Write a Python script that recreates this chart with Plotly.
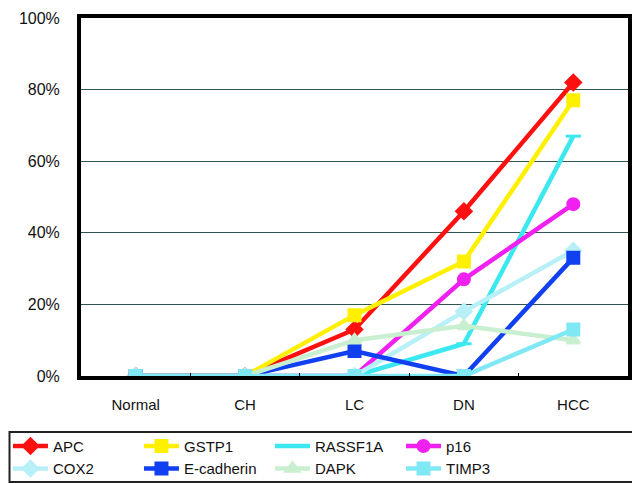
import plotly.graph_objects as go

categories = ["Normal", "CH", "LC", "DN", "HCC"]
legend_labels = ["APC", "GSTP1", "RASSF1A", "p16", "COX2", "E-cadherin", "DAPK", "TIMP3"]
apc = [0, 0, 13, 46, 82]
gstp1 = [0, 0, 17, 32, 77]
rassf1a = [0, 0, 0, 9, 67]
p16 = [0, 0, 0, 27, 48]
cox2 = [0, 0, 0, 18, 35]
ecadherin = [0, 0, 7, 0, 33]
dapk = [0, 0, 10, 14, 10]
timp3 = [0, 0, 0, 0, 13]
values = [apc, gstp1, rassf1a, p16, cox2, ecadherin, dapk, timp3]
y_ticks = [0, 20, 40, 60, 80, 100]
y_tick_labels = ["0%", "20%", "40%", "60%", "80%", "100%"]

colors = ["#FF1010", "#FFF000", "#3CE8F0", "#F020F0", "#B8F0F8", "#1040F0", "#C8F0D0", "#80E8F4"]
symbols = ["diamond", "square", "line-ew-open", "circle", "diamond", "square", "triangle-up", "square"]

fig = go.Figure()
for i in range(len(legend_labels)):
    fig.add_trace(go.Scatter(
        x=categories, y=values[i], name=legend_labels[i], mode="lines+markers",
        line=dict(color=colors[i], width=4.5),
        marker=dict(symbol=symbols[i], size=11, color=colors[i],
                    line=dict(color=colors[i], width=3)),
    ))

# page body has an 8px offset, margins compensate for it
fig.update_layout(
    width=640, height=483,
    margin=dict(l=73, r=20, t=10, b=115, autoexpand=False),
    paper_bgcolor="white", plot_bgcolor="white",
    font=dict(family="Liberation Sans, Arial, sans-serif", size=15, color="#111"),
    showlegend=True,
    legend=dict(orientation="h", x=-0.1335, xanchor="left", y=-0.3036, yanchor="bottom",
                entrywidth=81, traceorder="normal", tracegroupgap=0,
                font=dict(size=15), itemwidth=35,
                bgcolor="rgba(0,0,0,0)"),
)
fig.update_xaxes(
    type="category", range=[-0.5, 4.5], showline=True, linecolor="black", linewidth=4,
    mirror=True, ticks="inside", tickson="boundaries", ticklen=3, tickcolor="black",
    showgrid=False, tickfont=dict(size=15), zeroline=False, automargin=False,
    ticklabelstandoff=12,
)
fig.update_yaxes(
    range=[0, 100], tickvals=y_ticks, ticktext=y_tick_labels, showline=True,
    linecolor="black", linewidth=4, mirror=True, showgrid=True, gridcolor="#2F5550",
    gridwidth=1, ticks="", tickfont=dict(size=16), zeroline=False, automargin=False,
    ticklabelstandoff=14,
)
fig.add_shape(type="rect", xref="paper", yref="paper",
              x0=-0.1307, x1=1.0201, y0=-0.2961, y1=-0.1564,
              line=dict(color="#222", width=2), fillcolor="rgba(0,0,0,0)")

fig.write_html("out.html")
